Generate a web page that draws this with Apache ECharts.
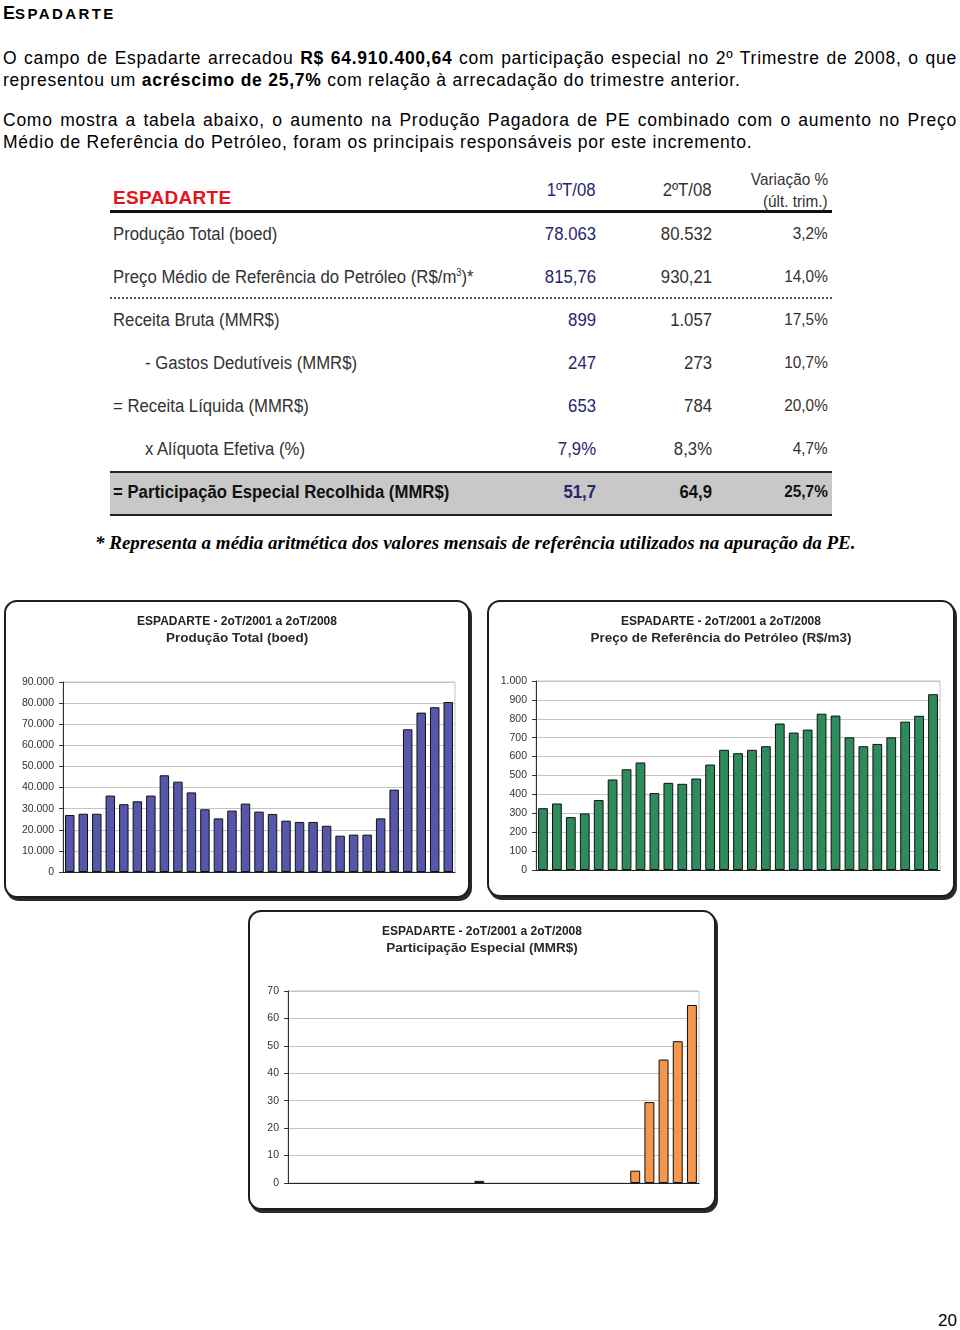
<!DOCTYPE html>
<html><head><meta charset="utf-8">
<script src="https://cdn.jsdelivr.net/npm/echarts@6/dist/echarts.min.js"></script>
<style>
body{margin:0;background:#fff;}
#page{position:relative;width:960px;height:1330px;background:#fff;font-family:"Liberation Sans",Arial,sans-serif;color:#000;overflow:hidden;}
.abs{position:absolute;white-space:nowrap;}
.h1{left:3px;top:3px;font-size:18px;font-weight:bold;}
.h1 .sc{font-size:15px;letter-spacing:2.4px;}
.line{position:absolute;left:3px;width:954px;font-size:17.5px;letter-spacing:0.75px;line-height:22px;white-space:nowrap;}
.just{text-align:justify;text-align-last:justify;}
.tb{font-family:"Liberation Sans",Arial,sans-serif;font-size:18px;color:#333;transform:scaleX(0.93);transform-origin:left center;}
.num{transform-origin:right center;text-align:right;}
.c1{color:#26266e;}
.frame{position:absolute;border:2px solid #1e1e1e;border-radius:13px;box-shadow:2px 3px 0 #2a2a2a;background:#fff;}
.chart{position:absolute;left:0;top:0;}
.foot{left:95px;top:532px;font-family:"Liberation Serif","Times New Roman",serif;font-style:italic;font-weight:bold;font-size:19px;}
</style></head>
<body>
<div id="page">
<div class="abs h1">E<span class="sc">SPADARTE</span></div>
<div class="line just" style="top:47px;">O campo de Espadarte arrecadou <b>R$ 64.910.400,64</b> com participação especial no 2º Trimestre de 2008, o que</div>
<div class="line" style="top:69px;">representou um <b>acréscimo de 25,7%</b> com relação à arrecadação do trimestre anterior.</div>
<div class="line just" style="top:109px;">Como mostra a tabela abaixo, o aumento na Produção Pagadora de PE combinado com o aumento no Preço</div>
<div class="line" style="top:131px;">Médio de Referência do Petróleo, foram os principais responsáveis por este incremento.</div>

<!-- table -->
<div class="abs" style="left:110px;top:471px;width:722px;height:41px;background:#c8c8c8;border-top:2px solid #222;border-bottom:2px solid #222;"></div>
<div class="abs" style="left:110px;top:210px;width:722px;height:3px;background:#111;"></div>
<div class="abs" style="left:110px;top:297px;width:722px;border-top:2px dotted #555;"></div>
<div class="abs" style="left:113px;top:187px;color:#e3141b;font-weight:bold;font-size:19px;letter-spacing:0.3px;">ESPADARTE</div>
<div class="abs tb num c1" style="right:364px;top:180px;">1ºT/08</div>
<div class="abs tb num" style="right:248px;top:180px;">2ºT/08</div>
<div class="abs tb num" style="right:132px;top:170px;font-size:16.5px;">Variação %</div>
<div class="abs tb num" style="right:132px;top:192px;font-size:16.5px;">(últ. trim.)</div>
<div id="rows"></div>

<div class="abs foot">* Representa a média aritmética dos valores mensais de referência utilizados na apuração da PE.</div>

<div class="frame" style="left:4px;top:600px;width:462px;height:294px;"><div id="c1" class="chart" style="width:462px;height:294px;"></div></div>
<div class="frame" style="left:487px;top:600px;width:464px;height:293px;"><div id="c2" class="chart" style="width:464px;height:293px;"></div></div>
<div class="frame" style="left:248px;top:910px;width:464px;height:296px;"><div id="c3" class="chart" style="width:464px;height:296px;"></div></div>

<div class="abs" style="right:3px;top:1311px;font-size:17px;">20</div>
</div>
<script>
// ---- data ----
const quarters = ['2T01','3T01','4T01','1T02','2T02','3T02','4T02','1T03','2T03','3T03','4T03','1T04','2T04','3T04','4T04','1T05','2T05','3T05','4T05','1T06','2T06','3T06','4T06','1T07','2T07','3T07','4T07','1T08','2T08'];
const producaoTotal = [27000, 27600, 27600, 36200, 32100, 33500, 36200, 45800, 42800, 37700, 29700, 25400, 29100, 32400, 28600, 27500, 24300, 23700, 23700, 21900, 17200, 17700, 17700, 25400, 39000, 67600, 75500, 78063, 80532];
const precoReferencia = [327, 352, 280, 299, 370, 479, 533, 569, 407, 461, 456, 484, 558, 636, 618, 636, 655, 775, 727, 743, 827, 817, 702, 655, 667, 702, 785, 815.76, 930.21];
const participacaoEspecial = [null,null,null,null,null,null,null,null,null,null,null,null,null,0.8,null,null,null,null,null,null,null,null,null,null,4.5,29.5,45,51.7,64.9];

const tableLabels = ['Produção Total (boed)','Preço Médio de Referência do Petróleo (R$/m<sup style="font-size:10px">3</sup>)*','Receita Bruta (MMR$)','- Gastos Dedutíveis (MMR$)','= Receita Líquida (MMR$)','x Alíquota Efetiva (%)','= Participação Especial Recolhida (MMR$)'];
const tableT1 = ['78.063','815,76','899','247','653','7,9%','51,7'];
const tableT2 = ['80.532','930,21','1.057','273','784','8,3%','64,9'];
const tableVar = ['3,2%','14,0%','17,5%','10,7%','20,0%','4,7%','25,7%'];
const tableIndent = [0,0,0,1,0,1,0];

// ---- table ----
(function(){
  const rows = document.getElementById('rows');
  let html='';
  for(let i=0;i<tableLabels.length;i++){
    const top = 224 + i*43;
    const bold = i===6 ? 'font-weight:bold;color:#111;' : '';
    html += `<div class="abs tb" style="left:${tableIndent[i]?145:113}px;top:${top}px;${bold}">${tableLabels[i]}</div>`;
    html += `<div class="abs tb num c1" style="right:364px;top:${top}px;${i===6?'font-weight:bold;':''}">${tableT1[i]}</div>`;
    html += `<div class="abs tb num" style="right:248px;top:${top}px;${bold}">${tableT2[i]}</div>`;
    html += `<div class="abs tb num" style="right:132px;top:${top}px;${bold}font-size:16.5px;">${tableVar[i]}</div>`;
  }
  rows.innerHTML = html;
})();

function fmt(v){ return String(v).replace(/\B(?=(\d{3})+(?!\d))/g,'.'); }

function makeChart(id, sub, data, color, max, interval, grid){
  const ch = echarts.init(document.getElementById(id), null, {renderer:'canvas'});
  ch.setOption({
    animation:false,
    title:{
      left:'center', top:7,
      text:'{a|ESPADARTE - 2oT/2001 a 2oT/2008}\n{b|'+sub+'}',
      textStyle:{rich:{
        a:{fontFamily:'Liberation Sans',fontSize:12,fontWeight:'bold',color:'#222',lineHeight:16},
        b:{fontFamily:'Liberation Sans',fontSize:13.5,fontWeight:'bold',color:'#2a2a2a',lineHeight:16}
      }}
    },
    grid:Object.assign({show:true,borderColor:'#c4c4c4',borderWidth:1,backgroundColor:'#fff'},grid),
    xAxis:{type:'category',data:quarters,axisLabel:{show:false},axisTick:{show:false},
      axisLine:{lineStyle:{color:'#222',width:1}}},
    yAxis:{type:'value',min:0,max:max,interval:interval,
      axisLine:{show:true,lineStyle:{color:'#333'}},
      axisTick:{show:true,length:4,lineStyle:{color:'#333'}},
      axisLabel:{fontFamily:'Liberation Sans',fontSize:10.5,color:'#333',margin:9,formatter:fmt},
      splitLine:{lineStyle:{color:'#c4c4c4'}}},
    series:[{type:'bar',data:data,barCategoryGap:'30%',
      itemStyle:{color:color,borderColor:'#111',borderWidth:1}}]
  });
}
makeChart('c1','Produção Total (boed)',producaoTotal,'#5656aa',90000,10000,{left:57,top:80,right:13,bottom:24});
makeChart('c2','Preço de Referência do Petróleo (R$/m3)',precoReferencia,'#2e8b5c',1000,100,{left:47,top:79,right:13,bottom:25});
makeChart('c3','Participação Especial (MMR$)',participacaoEspecial,'#f5964a',70,10,{left:38,top:79,right:15,bottom:25});
</script>
</body></html>
